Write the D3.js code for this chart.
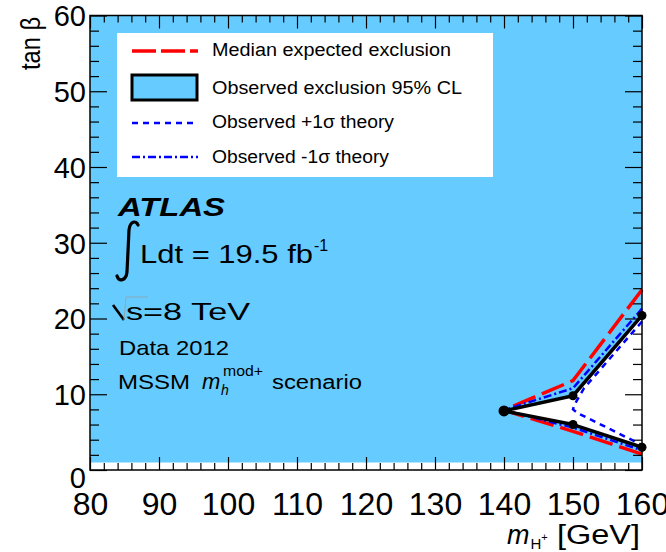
<!DOCTYPE html>
<html>
<head>
<meta charset="utf-8">
<script src="https://cdn.jsdelivr.net/npm/d3@7"></script>
<style>
  html, body { margin: 0; padding: 0; background: #fff; }
  svg { display: block; }
  text { font-family: "Liberation Sans", Arial, Helvetica, sans-serif; fill: #000; }
</style>
</head>
<body>
<svg id="chart" width="666" height="552"></svg>
<script>
// Charged Higgs exclusion in the (m_H+, tan beta) plane.
// Each contour is listed as mass points and tan beta points, walking from the
// upper branch at 160 GeV through the 140 GeV tip to the lower branch.
const observedMass = [160, 150, 140, 150, 160];
const observedTanb = [20.4, 9.8, 7.8, 6.0, 3.0];

const expectedMass = [160, 150, 140, 150, 160];
const expectedTanb = [23.8, 11.8, 7.9, 5.1, 2.1];

const minus1Mass = [160, 150, 140, 150, 160];
const minus1Tanb = [21.3, 10.8, 7.9, 5.6, 2.6];

const plus1Mass = [160, 151.6, 150.2, 150, 150.7, 160];
const plus1Tanb = [19.6, 10.8, 8.6, 8.0, 7.5, 3.3];

// Lowest tan beta covered by the scan
const scanTanbMin = 1;

const xTicks = [80, 90, 100, 110, 120, 130, 140, 150, 160];
const yTicks = [0, 10, 20, 30, 40, 50, 60];

const legendLabels = [
  "Median expected exclusion",
  "Observed exclusion 95% CL",
  "Observed +1\u03c3 theory",
  "Observed -1\u03c3 theory"
];

const fillBlue = "#66ccff";

const svg = d3.select("#chart");

const x = d3.scaleLinear().domain([80, 160]).range([90, 642]);
const y = d3.scaleLinear().domain([0, 60]).range([470, 15.5]);

const toPts = (ms, ts) => ms.map((m, i) => [m, ts[i]]);
const line = d3.line().x(d => x(d[0])).y(d => y(d[1]));

// Excluded region: the whole scanned plane minus the open wedge of the observed contour
const xMin = x.domain()[0], xMax = x.domain()[1], yMax = y.domain()[1];
const excluded = [[xMin, scanTanbMin], [xMax, scanTanbMin]]
  .concat(toPts(observedMass, observedTanb).reverse())
  .concat([[xMax, yMax], [xMin, yMax]]);
svg.append("path")
  .attr("d", line(excluded) + "Z")
  .attr("fill", fillBlue)
  .attr("stroke", "none");

// Contour lines
svg.append("path")
  .attr("d", line(toPts(expectedMass, expectedTanb)))
  .attr("fill", "none").attr("stroke", "#ff0000")
  .attr("stroke-width", 3.5).attr("stroke-dasharray", "24,7");

svg.append("path")
  .attr("d", line(toPts(minus1Mass, minus1Tanb)))
  .attr("fill", "none").attr("stroke", "#0000ff")
  .attr("stroke-width", 2.5).attr("stroke-dasharray", "8,3,2,3");

svg.append("path")
  .attr("d", line(toPts(plus1Mass, plus1Tanb)))
  .attr("fill", "none").attr("stroke", "#0000ff")
  .attr("stroke-width", 2.5).attr("stroke-dasharray", "6,5");

svg.append("path")
  .attr("d", line(toPts(observedMass, observedTanb)))
  .attr("fill", "none").attr("stroke", "#000")
  .attr("stroke-width", 3.5).attr("stroke-linejoin", "round");

svg.selectAll("circle.obs")
  .data(toPts(observedMass, observedTanb))
  .join("circle")
  .attr("class", "obs")
  .attr("cx", d => x(d[0])).attr("cy", d => y(d[1]))
  .attr("r", d => d[0] === 140 ? 5.5 : 4.5)
  .attr("fill", "#000");

// Axes: ROOT-style ticks pointing into the frame on all four sides
const xMinor = d3.range(80, 160.001, 2).filter(v => v % 10 !== 0);
const yMinor = d3.range(0, 60.001, 2).filter(v => v % 10 !== 0);

function ticksOnly(g) {
  g.select(".domain").remove();
  g.selectAll("line").attr("stroke", "#000").attr("stroke-width", 1.2);
}

// bottom
const gB = svg.append("g").attr("transform", `translate(0,${y(0)})`)
  .call(d3.axisBottom(x).tickValues(xTicks).tickSizeInner(-13).tickSizeOuter(0)
    .tickPadding(22).tickFormat(d3.format("d")));
ticksOnly(gB);
gB.selectAll("text").attr("font-size", 32).attr("fill", "#000");
svg.append("g").attr("transform", `translate(0,${y(0)})`)
  .call(d3.axisBottom(x).tickValues(xMinor).tickSizeInner(-7).tickSizeOuter(0).tickFormat(""))
  .call(ticksOnly);
// top
svg.append("g").attr("transform", `translate(0,${y(60)})`)
  .call(d3.axisTop(x).tickValues(xTicks).tickSizeInner(-13).tickSizeOuter(0).tickFormat(""))
  .call(ticksOnly);
svg.append("g").attr("transform", `translate(0,${y(60)})`)
  .call(d3.axisTop(x).tickValues(xMinor).tickSizeInner(-7).tickSizeOuter(0).tickFormat(""))
  .call(ticksOnly);
// left
const gL = svg.append("g").attr("transform", `translate(${x(80)},0)`)
  .call(d3.axisLeft(y).tickValues(yTicks).tickSizeInner(-17).tickSizeOuter(0)
    .tickPadding(4).tickFormat(d3.format("d")));
ticksOnly(gL);
gL.selectAll("text").attr("font-size", 29).attr("fill", "#000")
  .attr("dy", d => d === 0 ? "0.62em" : "0.36em");
svg.append("g").attr("transform", `translate(${x(80)},0)`)
  .call(d3.axisLeft(y).tickValues(yMinor).tickSizeInner(-9).tickSizeOuter(0).tickFormat(""))
  .call(ticksOnly);
// right
svg.append("g").attr("transform", `translate(${x(160)},0)`)
  .call(d3.axisRight(y).tickValues(yTicks).tickSizeInner(-17).tickSizeOuter(0).tickFormat(""))
  .call(ticksOnly);
svg.append("g").attr("transform", `translate(${x(160)},0)`)
  .call(d3.axisRight(y).tickValues(yMinor).tickSizeInner(-9).tickSizeOuter(0).tickFormat(""))
  .call(ticksOnly);

// frame
svg.append("rect")
  .attr("x", x(80)).attr("y", y(60))
  .attr("width", x(160) - x(80)).attr("height", y(0) - y(60))
  .attr("fill", "none").attr("stroke", "#000").attr("stroke-width", 1.5);

// Axis titles
svg.append("text")
  .attr("transform", "translate(40,17) rotate(-90)")
  .attr("text-anchor", "end").attr("font-size", 27)
  .attr("textLength", 53).attr("lengthAdjust", "spacingAndGlyphs")
  .text("tan \u03b2");

const xt = svg.append("text").attr("y", 544).attr("font-size", 27);
xt.append("tspan").attr("x", 507).attr("font-style", "italic").text("m");
xt.append("tspan").attr("font-size", 15).attr("dy", 5).attr("dx", 1).text("H");
xt.append("tspan").attr("font-size", 11).attr("dy", -8).text("+");
svg.append("text").attr("x", 557).attr("y", 544).attr("font-size", 27)
  .attr("textLength", 83).attr("lengthAdjust", "spacingAndGlyphs")
  .text("[GeV]");

// Legend
const lg = svg.append("g");
lg.append("rect").attr("x", 117).attr("y", 33).attr("width", 376).attr("height", 144)
  .attr("fill", "#fff");
const rowY = [51, 87, 123, 157];
const baseY = [56, 94, 128, 163];
const textW = [239, 250, 182, 177];
lg.append("line").attr("x1", 132).attr("x2", 198).attr("y1", rowY[0]).attr("y2", rowY[0])
  .attr("stroke", "#ff0000").attr("stroke-width", 3.5).attr("stroke-dasharray", "24,5");
lg.append("rect").attr("x", 132).attr("y", 75).attr("width", 65).attr("height", 25)
  .attr("fill", fillBlue).attr("stroke", "#000").attr("stroke-width", 3);
lg.append("line").attr("x1", 132).attr("x2", 198).attr("y1", rowY[2]).attr("y2", rowY[2])
  .attr("stroke", "#0000ff").attr("stroke-width", 2.5).attr("stroke-dasharray", "6,5");
lg.append("line").attr("x1", 132).attr("x2", 198).attr("y1", rowY[3]).attr("y2", rowY[3])
  .attr("stroke", "#0000ff").attr("stroke-width", 2.5).attr("stroke-dasharray", "8,3,2,3");
lg.selectAll("text.leg").data(legendLabels).join("text")
  .attr("class", "leg")
  .attr("x", 212).attr("y", (d, i) => baseY[i])
  .attr("font-size", 18)
  .attr("textLength", (d, i) => textW[i]).attr("lengthAdjust", "spacingAndGlyphs")
  .text(d => d);

// Experiment label block
svg.append("text").attr("x", 118).attr("y", 216)
  .attr("font-size", 25).attr("font-weight", "bold").attr("font-style", "italic")
  .attr("textLength", 107).attr("lengthAdjust", "spacingAndGlyphs")
  .text("ATLAS");

// integral sign
svg.append("path")
  .attr("d", "M117,276 C119,282 126,281 127,272 L129,230 C130,221 136,220 138,225")
  .attr("fill", "none").attr("stroke", "#000").attr("stroke-width", 3.2)
  .attr("stroke-linecap", "round");
svg.append("text").attr("x", 140).attr("y", 263).attr("font-size", 25)
  .attr("textLength", 173).attr("lengthAdjust", "spacingAndGlyphs")
  .text("Ldt = 19.5 fb");
svg.append("text").attr("x", 314).attr("y", 251).attr("font-size", 16)
  .text("-1");

// square root sign
svg.append("path")
  .attr("d", "M113,305 L124,320")
  .attr("stroke", "#000").attr("stroke-width", 2.6).attr("fill", "none");
svg.append("path")
  .attr("d", "M124,320 L126,297 L148,297")
  .attr("stroke", "#8aa8b8").attr("stroke-width", 1).attr("fill", "none");
svg.append("text").attr("x", 126).attr("y", 320).attr("font-size", 24)
  .attr("textLength", 124).attr("lengthAdjust", "spacingAndGlyphs")
  .text("s=8 TeV");

svg.append("text").attr("x", 119).attr("y", 355).attr("font-size", 21)
  .attr("textLength", 110).attr("lengthAdjust", "spacingAndGlyphs")
  .text("Data 2012");

svg.append("text").attr("x", 118).attr("y", 389).attr("font-size", 20)
  .attr("textLength", 72).attr("lengthAdjust", "spacingAndGlyphs")
  .text("MSSM");
svg.append("text").attr("x", 202).attr("y", 389).attr("font-size", 22)
  .attr("font-style", "italic").text("m");
svg.append("text").attr("x", 221).attr("y", 395).attr("font-size", 14)
  .attr("font-style", "italic").text("h");
svg.append("text").attr("x", 223).attr("y", 376).attr("font-size", 14)
  .attr("textLength", 40).attr("lengthAdjust", "spacingAndGlyphs")
  .text("mod+");
svg.append("text").attr("x", 272).attr("y", 389).attr("font-size", 20)
  .attr("textLength", 90).attr("lengthAdjust", "spacingAndGlyphs")
  .text("scenario");
</script>
</body>
</html>
